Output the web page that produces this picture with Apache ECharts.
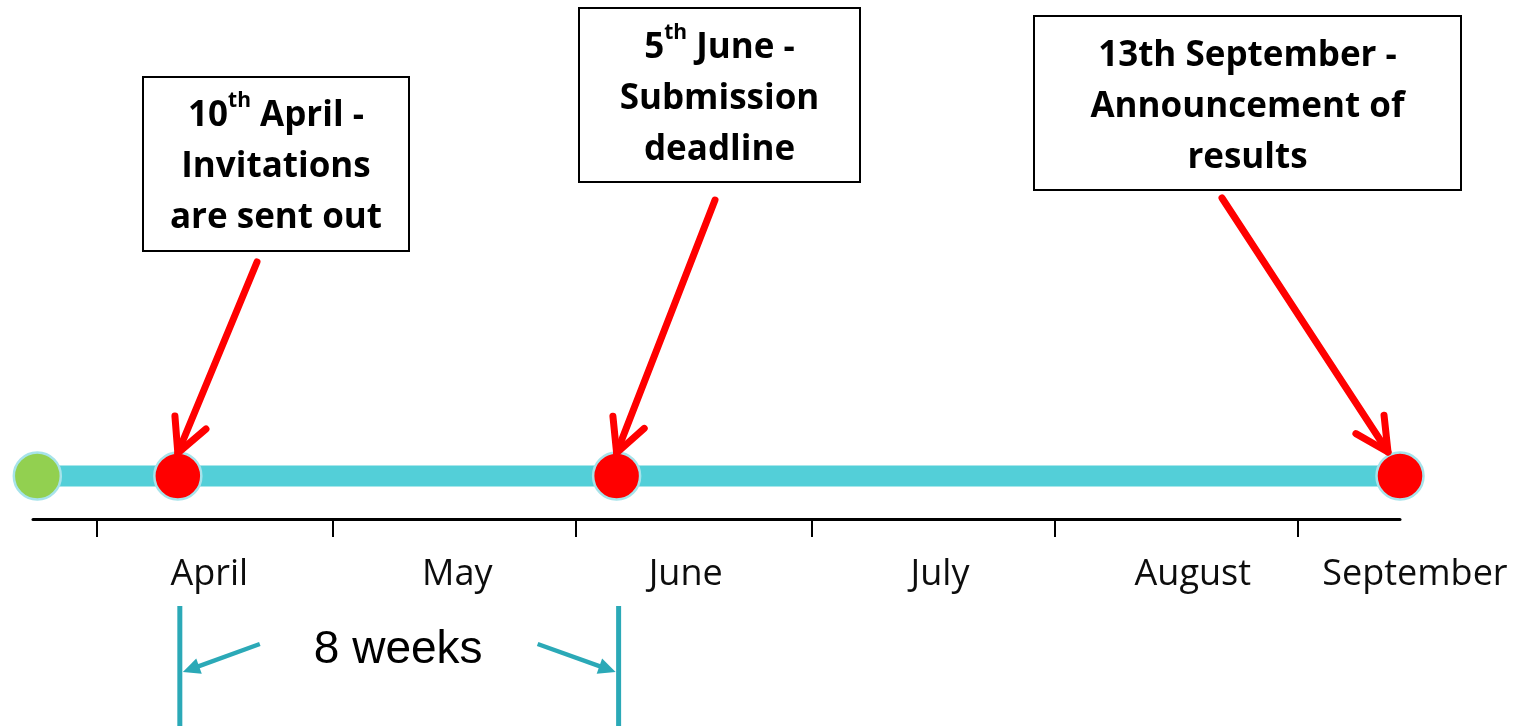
<!DOCTYPE html>
<html><head><meta charset="utf-8">
<script src="https://cdn.jsdelivr.net/npm/echarts@6/dist/echarts.min.js"></script>
<style>html,body{margin:0;padding:0;background:#fff}#c{width:1517px;height:726px}</style>
</head><body><div id="c"></div>
<script>
// ---------------- data ----------------
const months = ['April', 'May', 'June', 'July', 'August', 'September'];
// day of year (0 = 1 January) of each month's first day -> axis ticks
const monthStartDays = [90, 120, 151, 181, 212, 243];
// day of year where each month's name sits
const monthLabelDays = [104.3, 135.9, 165.0, 197.4, 229.6, 257.9];
const eventNames = ['Start', '10th April', '5th June', '13th September'];
const eventDays = [82.4, 100.3, 156.2, 256.0];
const eventTexts = [
  '',
  '10{sup|th} April -\nInvitations\nare sent out',
  '5{sup|th} June -\nSubmission\ndeadline',
  '13th September -\nAnnouncement of\nresults'
];
const spanLabel = '8 weeks';
const spanEvents = [1, 2];

// ---------------- layout & style ----------------
const LINE_Y = 43;            // y level (grid units = px above the axis) of the timeline
const BOXES = [                // annotation boxes, in pixels
  {x: 143, y: 77, w: 266, h: 174, ty: 3},
  {x: 579, y: 8,  w: 281, h: 174, ty: 4},
  {x: 1034, y: 16, w: 427, h: 174, ty: 4}
];
const ARROW_FROM = [[257, 262], [715, 200], [1222, 198]];
const TIP_OFFSET = [[0, -23], [0, -23], [-12, -24]];
const RED = '#FF0000', CYAN = '#53CFD8', TEAL = '#2BA9B7', GREEN = '#92D050';
const dotColors = [GREEN, RED, RED, RED];
const BOLD_FONT = 'Open Sans';

function vAdd(a, b) { return [a[0] + b[0], a[1] + b[1]]; }
function headPoints(from, tip, len, angDeg) {
  const dx = tip[0] - from[0], dy = tip[1] - from[1], L = Math.hypot(dx, dy);
  const bx = -dx / L, by = -dy / L, a = angDeg * Math.PI / 180;
  const r = (s) => [tip[0] + len * (bx * Math.cos(s * a) - by * Math.sin(s * a)),
                    tip[1] + len * (bx * Math.sin(s * a) + by * Math.cos(s * a))];
  return [r(1), r(-1)];
}

const chart = echarts.init(document.getElementById('c'), null, {renderer: 'canvas'});

const option = {
  animation: false,
  backgroundColor: '#fff',
  grid: {left: 33, right: 117, top: 0, bottom: 207},
  xAxis: {
    type: 'value', min: 81.85, max: 256,
    axisLine: {show: true, lineStyle: {color: '#000', width: 3}},
    axisTick: {show: true, customValues: monthStartDays, length: 18, lineStyle: {color: '#000', width: 2}},
    axisLabel: {show: false},
    splitLine: {show: false}
  },
  yAxis: {type: 'value', min: 0, max: 519, show: false, splitLine: {show: false}},
  series: [
    {
      type: 'line', name: 'timeline', z: 2,
      data: eventDays.map(d => [d, LINE_Y]),
      symbol: 'none',
      lineStyle: {color: CYAN, width: 21, cap: 'butt'},
      silent: true
    },
    {
      type: 'scatter', name: 'events', z: 3,
      data: eventDays.map((d, i) => ({name: eventNames[i], value: [d, LINE_Y], itemStyle: {color: dotColors[i]}})),
      symbolSize: 47,
      itemStyle: {borderColor: '#A6E3EA', borderWidth: 2.5, opacity: 1},
      clip: false
    },
    {
      type: 'custom', name: 'months', z: 4, clip: false,
      data: monthLabelDays.map((d, i) => [d, 0, i]),
      renderItem: function (params, api) {
        const p = api.coord([api.value(0), 0]);
        return {
          type: 'text', x: p[0], y: p[1] + 56,
          style: {text: months[params.dataIndex], fontFamily: 'Open Sans', fontSize: 36,
                  fill: '#0d0d0d', align: 'center', verticalAlign: 'middle'}
        };
      }
    },
    {
      type: 'custom', name: 'annotations', z: 5, clip: false,
      data: [1, 2, 3].map(i => [eventDays[i], LINE_Y, i]),
      renderItem: function (params, api) {
        const k = params.dataIndex, idx = k + 1;
        const c = api.coord([api.value(0), api.value(1)]);
        const tip = vAdd(c, TIP_OFFSET[k]);
        const from = ARROW_FROM[k];
        const hp = headPoints(from, tip, 37, 27);
        const b = BOXES[k];
        return {
          type: 'group',
          children: [
            {type: 'rect', shape: {x: b.x, y: b.y, width: b.w, height: b.h},
             style: {fill: '#fff', stroke: '#000', lineWidth: 2}},
            {type: 'text', x: b.x + b.w / 2, y: b.y + b.h / 2 + b.ty,
             style: {text: eventTexts[idx], fontFamily: BOLD_FONT, fontSize: 35, fontWeight: 'bold',
                     fill: '#000', align: 'center', verticalAlign: 'middle', lineHeight: 51,
                     rich: {sup: {fontFamily: BOLD_FONT, fontSize: 21, fontWeight: 'bold', fill: '#000',
                                  lineHeight: 30, verticalAlign: 'top'}}}},
            {type: 'line', shape: {x1: from[0], y1: from[1], x2: tip[0], y2: tip[1]},
             style: {stroke: RED, lineWidth: 7, lineCap: 'round'}},
            {type: 'polyline', shape: {points: [hp[0], tip, hp[1]]},
             style: {stroke: RED, lineWidth: 7, lineCap: 'round', lineJoin: 'round', fill: null}}
          ]
        };
      }
    },
    {
      type: 'custom', name: 'span', z: 5, clip: false,
      data: [[eventDays[spanEvents[0]], eventDays[spanEvents[1]], 0]],
      renderItem: function (params, api) {
        const a0 = api.coord([api.value(0), 0]);
        const b0 = api.coord([api.value(1), 0]);
        const a = [a0[0] + 2, a0[1]], b = [b0[0] + 2, b0[1]];
        const yTop = a[1] + 87, yBot = a[1] + 210;
        const lf = [a[0] + 80, a[1] + 125], lt = [a[0] + 3, a[1] + 153];
        const rf = [b[0] - 81, b[1] + 125], rt = [b[0] - 3, b[1] + 153];
        const lh = headPoints(lf, lt, 19, 25), rh = headPoints(rf, rt, 19, 25);
        return {
          type: 'group',
          children: [
            {type: 'line', shape: {x1: a[0], y1: yTop, x2: a[0], y2: yBot}, style: {stroke: TEAL, lineWidth: 5}},
            {type: 'line', shape: {x1: b[0], y1: yTop, x2: b[0], y2: yBot}, style: {stroke: TEAL, lineWidth: 5}},
            {type: 'line', shape: {x1: lf[0], y1: lf[1], x2: lt[0] + 10, y2: lt[1] - 3.7}, style: {stroke: TEAL, lineWidth: 4.5}},
            {type: 'polygon', shape: {points: [lt, lh[0], lh[1]]}, style: {fill: TEAL}},
            {type: 'line', shape: {x1: rf[0], y1: rf[1], x2: rt[0] - 10, y2: rt[1] - 3.7}, style: {stroke: TEAL, lineWidth: 4.5}},
            {type: 'polygon', shape: {points: [rt, rh[0], rh[1]]}, style: {fill: TEAL}},
            {type: 'text', x: (a[0] + b[0]) / 2 - 1, y: a[1] + 131,
             style: {text: spanLabel, fontFamily: 'Liberation Sans', fontSize: 46, fill: '#000',
                     align: 'center', verticalAlign: 'middle'}}
          ]
        };
      }
    }
  ]
};
chart.setOption(option);
</script>
</body></html>
